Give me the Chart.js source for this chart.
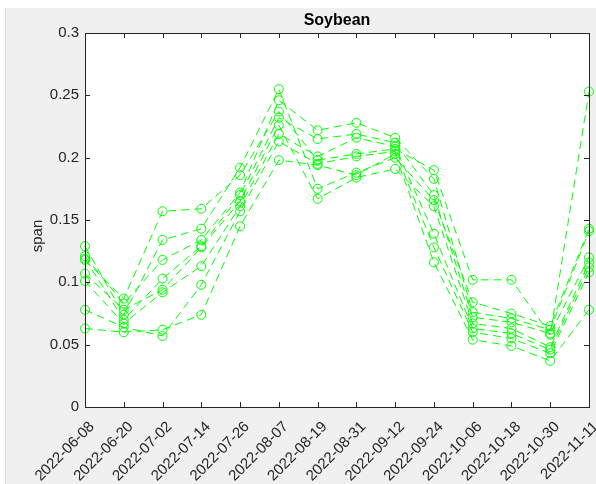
<!DOCTYPE html>
<html>
<head>
<meta charset="utf-8">
<title>Soybean</title>
<script src="https://cdn.jsdelivr.net/npm/chart.js@4.4.1/dist/chart.umd.min.js"></script>
<style>
  html, body { margin: 0; padding: 0; background: #ffffff; }
  #wrap { position: absolute; left: 0; top: 0; width: 596px; height: 484px; }
</style>
</head>
<body>
<div id="wrap"><canvas id="chart" width="596" height="484"></canvas></div>
<script>
// Dates on the x axis (every 12 days)
const dates = ['2022-06-08', '2022-06-20', '2022-07-02', '2022-07-14', '2022-07-26', '2022-08-07', '2022-08-19',
               '2022-08-31', '2022-09-12', '2022-09-24', '2022-10-06', '2022-10-18', '2022-10-30', '2022-11-11'];

// span values per field
const field1 = [0.118, 0.087, 0.157, 0.159, 0.186, 0.237, 0.198, 0.203, 0.207, 0.190, 0.102, 0.102, 0.058, 0.253];
const field2 = [0.129, 0.074, 0.134, 0.143, 0.192, 0.255, 0.175, 0.188, 0.200, 0.166, 0.084, 0.075, 0.065, 0.143];
const field3 = [0.121, 0.083, 0.118, 0.134, 0.172, 0.246, 0.222, 0.228, 0.216, 0.183, 0.076, 0.071, 0.062, 0.141];
const field4 = [0.119, 0.070, 0.103, 0.129, 0.170, 0.232, 0.215, 0.219, 0.212, 0.170, 0.072, 0.068, 0.059, 0.120];
const field5 = [0.107, 0.078, 0.094, 0.128, 0.165, 0.226, 0.167, 0.184, 0.191, 0.161, 0.067, 0.063, 0.048, 0.116];
const field6 = [0.101, 0.067, 0.092, 0.113, 0.161, 0.219, 0.201, 0.216, 0.209, 0.139, 0.063, 0.059, 0.046, 0.112];
const field7 = [0.078, 0.064, 0.057, 0.098, 0.157, 0.213, 0.195, 0.201, 0.205, 0.128, 0.060, 0.055, 0.043, 0.108];
const field8 = [0.063, 0.060, 0.062, 0.074, 0.145, 0.198, 0.194, 0.186, 0.203, 0.116, 0.054, 0.049, 0.037, 0.078];

const allFields = [field1, field2, field3, field4, field5, field6, field7, field8];

const chartTitle = 'Soybean';
const yLabel = 'span';

const FONT = "'Liberation Sans', Arial, sans-serif";
const AXIS_COLOR = '#262626';

// Grey figure background, white axes box, MATLAB-style frame, inward ticks and labels
const matlabFrame = {
    id: 'matlabFrame',
    beforeDraw(chart) {
        const ctx = chart.ctx;
        const a = chart.chartArea;
        ctx.save();
        ctx.fillStyle = '#ffffff';
        ctx.fillRect(0, 0, chart.width, chart.height);
        ctx.fillStyle = '#f0f0f0';
        ctx.fillRect(6, 8, chart.width - 6, chart.height - 8);
        ctx.fillStyle = '#dcdcdc';
        ctx.fillRect(5, 8, 1, chart.height - 8);
        ctx.fillStyle = '#ffffff';
        ctx.fillRect(a.left, a.top, a.right - a.left, a.bottom - a.top);
        ctx.restore();
    },
    afterDraw(chart) {
        const ctx = chart.ctx;
        const a = chart.chartArea;
        const xs = chart.scales.x;
        const ys = chart.scales.y;
        const len = 5;
        ctx.save();
        ctx.strokeStyle = AXIS_COLOR;
        ctx.lineWidth = 1;
        ctx.beginPath();
        xs.ticks.forEach((t, i) => {
            const px = Math.round(xs.getPixelForTick(i)) + 0.5;
            ctx.moveTo(px, a.bottom);
            ctx.lineTo(px, a.bottom - len);
            ctx.moveTo(px, a.top);
            ctx.lineTo(px, a.top + len);
        });
        ys.ticks.forEach((t, i) => {
            const py = Math.round(ys.getPixelForTick(i)) + 0.5;
            ctx.moveTo(a.left, py);
            ctx.lineTo(a.left + len, py);
            ctx.moveTo(a.right, py);
            ctx.lineTo(a.right - len, py);
        });
        ctx.stroke();
        ctx.strokeRect(Math.round(a.left) + 0.5, Math.round(a.top) + 0.5,
                       Math.round(a.right - a.left), Math.round(a.bottom - a.top));

        // title, centred over the axes
        ctx.fillStyle = '#000000';
        ctx.font = 'bold 16px ' + FONT;
        ctx.textAlign = 'center';
        ctx.textBaseline = 'alphabetic';
        ctx.fillText(chartTitle, (a.left + a.right) / 2, 25);

        // y axis label
        ctx.fillStyle = AXIS_COLOR;
        ctx.font = '15px ' + FONT;
        ctx.translate(42, 236);
        ctx.rotate(-Math.PI / 2);
        ctx.textBaseline = 'alphabetic';
        ctx.fillText(yLabel, 0, 0);
        ctx.restore();
    }
};

const datasets = allFields.map((values, i) => ({
    label: 'field ' + (i + 1),
    data: values,
    borderColor: '#00ff00',
    backgroundColor: 'rgba(0,0,0,0)',
    borderWidth: 1,
    borderDash: [8, 5],
    pointRadius: 4.5,
    pointBorderWidth: 1,
    pointBorderColor: '#00ff00',
    pointBackgroundColor: 'rgba(0,0,0,0)',
    tension: 0,
    fill: false
}));

const ctx = document.getElementById('chart').getContext('2d');
const chart = new Chart(ctx, {
    type: 'line',
    data: { labels: dates, datasets: datasets },
    options: {
        responsive: false,
        animation: false,
        layout: { padding: { left: 6, right: 7, top: 33, bottom: 0 } },
        plugins: {
            legend: { display: false },
            tooltip: { enabled: false },
            title: { display: false }
        },
        scales: {
            x: {
                offset: false,
                grid: { display: false, drawTicks: false },
                border: { display: false },
                afterFit(scale) {
                    scale.height = 77;
                    // keep the axes box wide, let the last label run past it
                    scale.paddingLeft = 0;
                    scale.paddingRight = 0;
                },
                ticks: {
                    color: AXIS_COLOR,
                    font: { family: FONT, size: 15 },
                    minRotation: 45,
                    maxRotation: 45,
                    autoSkip: false,
                    padding: 11,
                    labelOffset: 7
                }
            },
            y: {
                min: 0,
                max: 0.3,
                grid: { display: false, drawTicks: false },
                border: { display: false },
                afterFit(scale) {
                    scale.width = 79;
                    scale.paddingTop = 0;
                    scale.paddingBottom = 0;
                },
                ticks: {
                    stepSize: 0.05,
                    color: AXIS_COLOR,
                    font: { family: FONT, size: 15 },
                    padding: 6,
                    callback: (v) => String(Math.round(v * 100) / 100)
                }
            }
        }
    },
    plugins: [matlabFrame]
});
</script>
</body>
</html>
